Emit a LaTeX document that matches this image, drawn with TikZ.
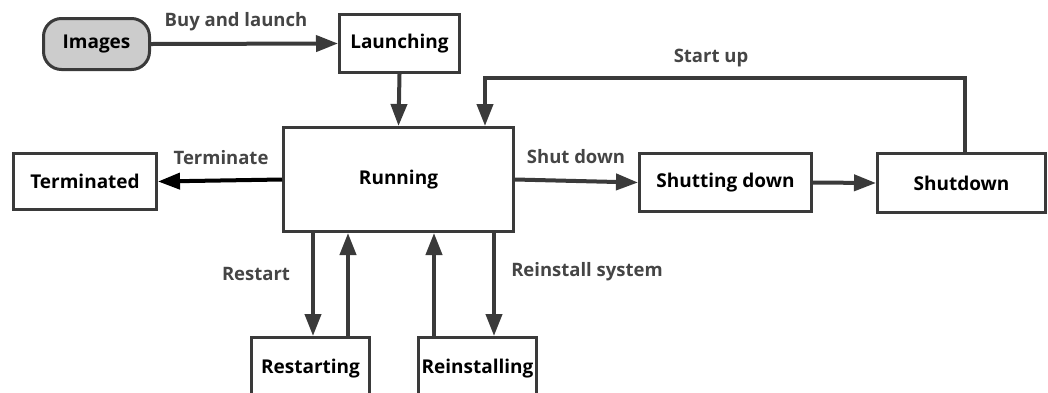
\documentclass[tikz,border=0pt]{standalone}
\usepackage{fontspec}
\setmainfont{Open Sans}
\usetikzlibrary{arrows.meta}
\definecolor{ln}{HTML}{3A3A3A}
\definecolor{lbl}{HTML}{454545}
\begin{document}
\begin{tikzpicture}[x=1pt,y=-1pt,
  box/.style={draw=ln,line width=3pt,fill=white,font=\bfseries\fontsize{19}{22}\selectfont,text=black,inner sep=0pt,anchor=north west},
  edge/.style={draw=ln,line width=4pt,-{Triangle[length=22pt,width=16pt]}},
  lab/.style={font=\bfseries\fontsize{18.5}{21}\selectfont,text=lbl,inner sep=0pt}]
\useasboundingbox (0,0) rectangle (1048,392);
\node[box,minimum width=106pt,minimum height=51pt,rounded corners=18pt,fill=black!20] (img) at (42,17) {Images};
\node[box,minimum width=120pt,minimum height=58pt] (launch) at (338,13) {Launching};
\node[box,minimum width=230pt,minimum height=104pt] (run) at (282,126) {Running};
\node[box,minimum width=143pt,minimum height=56pt] (term) at (12,152) {Terminated};
\node[box,minimum width=172pt,minimum height=58pt] (sdg) at (638,152) {Shutting down};
\node[box,minimum width=168pt,minimum height=59pt] (sd) at (876,152) {Shutdown};
\node[box,minimum width=118pt,minimum height=62pt] (rst) at (250,336) {Restarting};
\node[box,minimum width=118pt,minimum height=62pt] (rei) at (417,336) {Reinstalling};
\coordinate (c1) at (965,78);
\coordinate (c2) at (485,78);
\draw[edge] (img.east) -- (launch.west);
\draw[edge] (launch.south) -- (run.north);
\draw[edge] (sd.north -| c1) -- (c1) -- (c2) -- (run.north -| c2);
\draw[edge,draw=black] (run.west) -- (term.east);
\draw[edge] (run.east) -- (sdg.west);
\draw[edge] (sdg.east) -- (sd.west);
\draw[edge] (run.south -| 313,0) -- (rst.north -| 313,0);
\draw[edge] (rst.north -| 348,0) -- (run.south -| 348,0);
\draw[edge] (rei.north -| 434,0) -- (run.south -| 434,0);
\draw[edge] (run.south -| 494,0) -- (rei.north -| 494,0);
\node[lab] (l1) at (236,22) {Buy and launch};
\node[lab] (l2) at (711,58) {Start up};
\node[lab] (l3) at (221,158) {Terminate};
\node[lab] (l4) at (576,157) {Shut down};
\node[lab] (l5) at (256,274) {Restart};
\node[lab] (l6) at (587,272) {Reinstall system};
\end{tikzpicture}
\end{document}
